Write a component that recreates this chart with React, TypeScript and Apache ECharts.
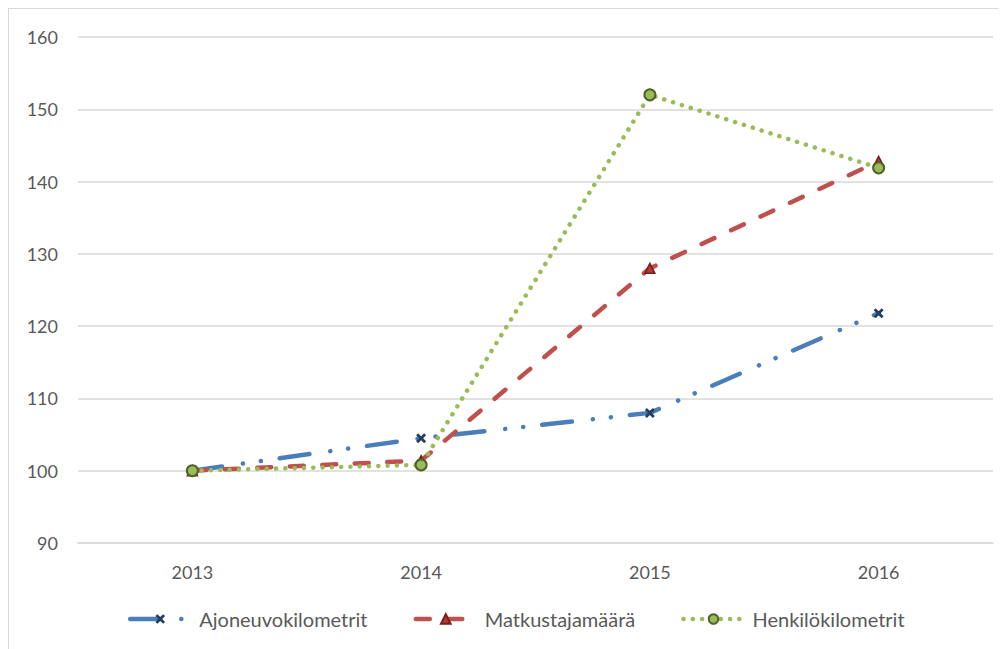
import React, { useEffect, useRef } from "react";
import * as echarts from "echarts";

const years = ["2013", "2014", "2015", "2016"];
const ajoneuvokilometrit = [100, 104.5, 108, 121.8];
const matkustajamaara = [100, 101.4, 128, 142.8];
const henkilokilometrit = [100, 100.8, 152, 141.9];
const yTicks = { min: 90, max: 160, interval: 10 };

const FONT = "Lato";
const TEXT = "#595959";
const X_SYMBOL =
  "path://M2,0 L5,3 L8,0 L10,2 L7,5 L10,8 L8,10 L5,7 L2,10 L0,8 L3,5 L0,2 Z";

export default function App() {
  const ref = useRef<HTMLDivElement>(null);
  useEffect(() => {
    if (!ref.current) return;
    const chart = echarts.init(ref.current, null, { renderer: "svg" });
    chart.setOption({
      animation: false,
      backgroundColor: "#ffffff",
      grid: { left: 69, right: 13, top: 28, bottom: 106, containLabel: false },
      xAxis: {
        type: "category",
        data: years,
        boundaryGap: true,
        axisLine: { show: true, lineStyle: { color: "#d9d9d9", width: 1.5 } },
        axisTick: { show: false },
        axisLabel: { color: TEXT, fontFamily: FONT, fontSize: 18, margin: 20 },
      },
      yAxis: {
        type: "value",
        min: yTicks.min,
        max: yTicks.max,
        interval: yTicks.interval,
        axisLine: { show: false },
        axisTick: { show: false },
        axisLabel: { color: TEXT, fontFamily: FONT, fontSize: 18, margin: 20 },
        splitLine: { lineStyle: { color: "#d9d9d9", width: 1.5 } },
      },
      legend: {
        left: 114,
        top: 595,
        itemWidth: 60,
        itemHeight: 12,
        itemGap: 46,
        lineStyle: { width: 4.5 },
        textStyle: {
          color: TEXT,
          fontFamily: FONT,
          fontSize: 20,
          padding: [0, 0, 0, 4],
        },
        data: ["Ajoneuvokilometrit", "Matkustajamäärä", "Henkilökilometrit"],
      },
      series: [
        {
          name: "Ajoneuvokilometrit",
          type: "line",
          data: ajoneuvokilometrit,
          symbol: X_SYMBOL,
          symbolSize: 10,
          itemStyle: { color: "#243F60" },
          lineStyle: {
            color: "#4A7EBB",
            width: 4.5,
            type: [30, 21, 0.1, 18, 0.1, 19],
            cap: "round",
          },
          z: 2,
        },
        {
          name: "Matkustajamäärä",
          type: "line",
          data: matkustajamaara,
          symbol: "triangle",
          symbolSize: 10,
          itemStyle: { color: "#B03A37", borderColor: "#7A1E1C", borderWidth: 1.5 },
          lineStyle: {
            color: "#C0504D",
            width: 4.5,
            type: [14, 18.5],
            cap: "round",
          },
          z: 3,
        },
        {
          name: "Henkilökilometrit",
          type: "line",
          data: henkilokilometrit,
          symbol: "circle",
          symbolSize: 11,
          itemStyle: { color: "#9BBB59", borderColor: "#4F6228", borderWidth: 2 },
          lineStyle: {
            color: "#9BBB59",
            width: 4.5,
            type: [0.1, 9.2],
            cap: "round",
          },
          z: 4,
        },
      ],
    });
    return () => chart.dispose();
  }, []);
  return (
    <div
      ref={ref}
      style={{
        width: 998,
        height: 641,
        boxSizing: "border-box",
        borderTop: "1px solid #d9d9d9",
        borderLeft: "1px solid #d9d9d9",
      }}
    />
  );
}
